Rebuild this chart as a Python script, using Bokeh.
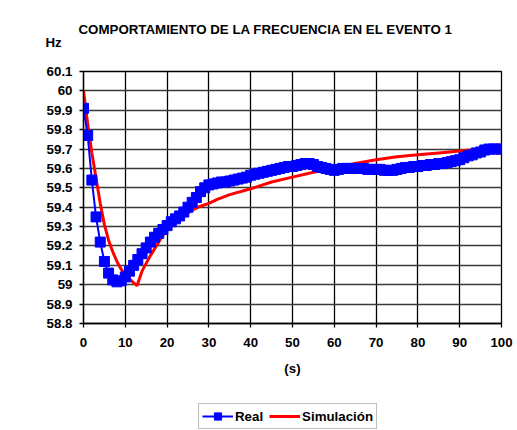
from bokeh.plotting import figure
from bokeh.layouts import column
from bokeh.models import (Range1d, FixedTicker, CustomJSTickFormatter, Title,
                          Legend, LegendItem)
from bokeh.embed import file_html
from bokeh.resources import INLINE

title_text = "COMPORTAMIENTO DE LA FRECUENCIA EN EL EVENTO 1"
y_unit = "Hz"
x_unit = "(s)"
series_names = ["Real", "Simulación"]

real_t = list(range(0, 101))
real_f = [59.91, 59.77, 59.54, 59.35, 59.22, 59.12, 59.06, 59.025, 59.015, 59.02,
          59.04, 59.07, 59.10, 59.13, 59.16, 59.19, 59.22, 59.245, 59.265, 59.285,
          59.305, 59.325, 59.34, 59.355, 59.375, 59.40, 59.425, 59.45, 59.48, 59.50,
          59.515, 59.52, 59.525, 59.53, 59.53, 59.535, 59.54, 59.545, 59.55, 59.555,
          59.565, 59.57, 59.575, 59.58, 59.585, 59.59, 59.595, 59.60, 59.605, 59.61,
          59.61, 59.615, 59.62, 59.625, 59.625, 59.62, 59.61, 59.605, 59.60, 59.595,
          59.59, 59.595, 59.60, 59.60, 59.60, 59.60, 59.60, 59.60, 59.595, 59.595,
          59.595, 59.595, 59.59, 59.59, 59.59, 59.595, 59.60, 59.605, 59.605, 59.61,
          59.61, 59.615, 59.615, 59.62, 59.62, 59.625, 59.625, 59.63, 59.635, 59.64,
          59.645, 59.655, 59.665, 59.67, 59.68, 59.685, 59.695, 59.70, 59.70, 59.70,
          59.70]

sim_t = [0, 1, 2, 3, 4, 5, 6, 7, 8, 9, 10, 11, 12, 12.8, 14, 15, 16, 17, 18, 19,
         20, 21, 22, 23, 24, 25, 26, 28, 30, 32, 35, 40, 45, 50, 55, 60, 65, 70,
         75, 80, 85, 90, 95, 100]
sim_f = [60.00, 59.83, 59.68, 59.55, 59.42, 59.31, 59.23, 59.17, 59.12, 59.08,
         59.05, 59.03, 59.01, 58.995, 59.07, 59.11, 59.15, 59.185, 59.22, 59.255,
         59.28, 59.305, 59.325, 59.34, 59.355, 59.37, 59.385, 59.405, 59.42, 59.44,
         59.465, 59.495, 59.53, 59.555, 59.58, 59.60, 59.625, 59.645, 59.66, 59.67,
         59.68, 59.69, 59.70, 59.71]

x_ticks = [0, 10, 20, 30, 40, 50, 60, 70, 80, 90, 100]
y_ticks = [58.8, 58.9, 59.0, 59.1, 59.2, 59.3, 59.4, 59.5, 59.6, 59.7, 59.8, 59.9, 60.0, 60.1]

FONT = "Liberation Sans"
FS = "13.3px"
BLUE = "#0000FF"
RED = "#FF0000"

p = figure(width=517, height=398, output_backend="svg", toolbar_location=None,
           x_range=Range1d(0, 100), y_range=Range1d(58.8, 60.1),
           min_border_left=83, min_border_right=16, min_border_top=71,
           min_border_bottom=75, background_fill_color="white",
           border_fill_color="white", outline_line_color="black",
           outline_line_width=1.3)

for ax in (p.xaxis[0], p.yaxis[0]):
    ax.major_label_text_font = FONT
    ax.major_label_text_font_style = "bold"
    ax.major_label_text_font_size = FS
    ax.major_label_text_color = "black"
    ax.axis_line_color = "black"
    ax.axis_line_width = 1.3
    ax.major_tick_line_color = "black"
    ax.major_tick_line_width = 1.3
    ax.major_tick_out = 4
    ax.major_tick_in = 0
    ax.minor_tick_line_color = None

p.xaxis.ticker = FixedTicker(ticks=x_ticks)
p.yaxis.ticker = FixedTicker(ticks=y_ticks)
p.yaxis.formatter = CustomJSTickFormatter(code="return Number(tick.toFixed(1)).toString();")
p.xaxis.major_label_standoff = 10
p.yaxis.major_label_standoff = 7
p.xaxis.axis_label = x_unit
p.xaxis.axis_label_text_font = FONT
p.xaxis.axis_label_text_font_style = "bold"
p.xaxis.axis_label_text_font_size = FS
p.xaxis.axis_label_text_color = "black"
p.xaxis.axis_label_standoff = 11

p.xgrid.ticker = FixedTicker(ticks=x_ticks)
p.ygrid.ticker = FixedTicker(ticks=y_ticks)
p.xgrid.grid_line_color = "black"
p.xgrid.grid_line_width = 1.3
p.ygrid.grid_line_color = "#3a3a3a"
p.ygrid.grid_line_width = 1.3

p.line(sim_t, sim_f, line_color=RED, line_width=3)
p.line(real_t, real_f, line_color=BLUE, line_width=2)
p.scatter(real_t, real_f, marker="square", size=10, fill_color=BLUE, line_color=BLUE)

# texts above the plot: spacer (nearest the frame), "Hz", then the title
p.add_layout(Title(text=" ", standoff=5, text_font=FONT,
                   text_font_size=FS), "above")
p.add_layout(Title(text=y_unit, align="left", offset=-38, standoff=0,
                   text_font=FONT, text_font_style="bold", text_font_size=FS,
                   text_color="black"), "above")
p.add_layout(Title(text=title_text, align="left", offset=-5, standoff=-8,
                   text_font=FONT, text_font_style="bold", text_font_size=FS,
                   text_color="black"), "above")

# legend strip under the chart: a small figure whose frame holds the legend;
# its series are the same data, drawn outside its visible ranges
lg = figure(width=517, height=32, output_backend="svg", toolbar_location=None,
            x_range=Range1d(0, 1), y_range=Range1d(0, 1),
            x_axis_type=None, y_axis_type=None,
            min_border_left=0, min_border_right=0, min_border_top=0,
            min_border_bottom=0, outline_line_color=None,
            background_fill_color="white", border_fill_color="white")
lg.xgrid.visible = False
lg.ygrid.visible = False
k_real_l = lg.line(real_t, real_f, line_color=BLUE, line_width=2)
k_real_m = lg.scatter(real_t, real_f, marker="square", size=10,
                      fill_color=BLUE, line_color=BLUE)
k_sim = lg.line(sim_t, sim_f, line_color=RED, line_width=3)

legend = Legend(items=[LegendItem(label=series_names[0], renderers=[k_real_l, k_real_m]),
                       LegendItem(label=series_names[1], renderers=[k_sim])],
                orientation="horizontal", location=(115, 1),
                label_text_font=FONT, label_text_font_style="bold",
                label_text_font_size=FS, label_text_color="black",
                glyph_width=31, glyph_height=18, label_height=18,
                label_standoff=2, spacing=6,
                padding=3, margin=0, border_line_color="#808080",
                border_line_width=1.5, background_fill_color="white",
                background_fill_alpha=1.0)
lg.add_layout(legend, "center")

layout = column(p, lg, spacing=0)
open("out.html", "w").write(file_html(layout, INLINE))
